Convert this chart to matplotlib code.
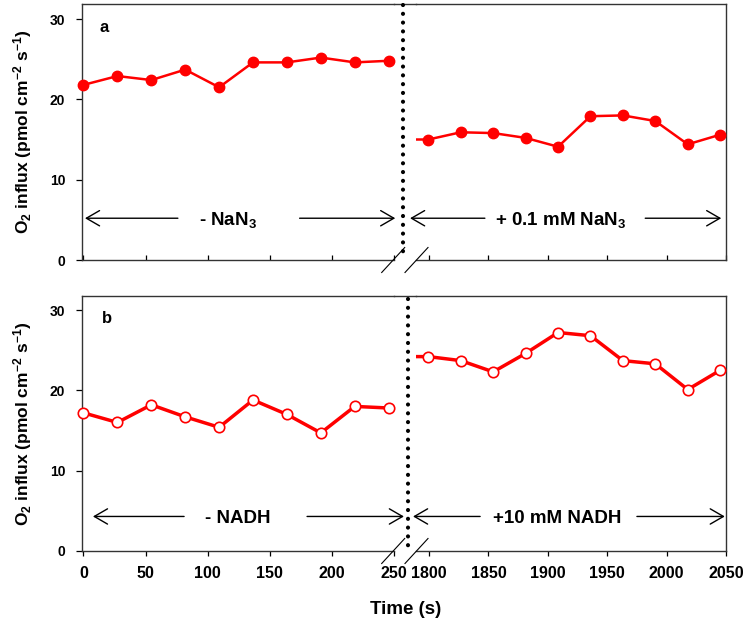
import matplotlib
matplotlib.use("Agg")
import matplotlib.pyplot as plt
from matplotlib.lines import Line2D

plt.rcParams['font.family'] = ['Liberation Sans', 'DejaVu Sans']
plt.rcParams['font.weight'] = 'bold'
plt.rcParams['mathtext.fontset'] = 'custom'
plt.rcParams['mathtext.rm'] = 'Liberation Sans:bold'
plt.rcParams['mathtext.bf'] = 'Liberation Sans:bold'
plt.rcParams['mathtext.it'] = 'Liberation Sans:bold:italic'
plt.rcParams['mathtext.default'] = 'rm'

# ---- data (time in s, O2 influx in pmol cm-2 s-1) ----
time_before = [0, 27.3, 54.6, 81.9, 109.2, 136.5, 163.8, 191.1, 218.4, 245.7]
time_after = [1772, 1799.4, 1826.7, 1854.0, 1881.3, 1908.6, 1935.9, 1963.2,
              1990.5, 2017.8, 2045.1]

nan3_before = [21.8, 22.9, 22.4, 23.7, 21.5, 24.6, 24.6, 25.2, 24.6, 24.8]
nan3_after = [15.0, 15.0, 15.9, 15.8, 15.2, 14.1, 17.9, 18.0, 17.3, 14.4, 15.6]

nadh_before = [17.2, 16.0, 18.2, 16.7, 15.4, 18.8, 17.0, 14.7, 18.0, 17.8]
nadh_after = [24.2, 24.2, 23.7, 22.3, 24.6, 27.2, 26.8, 23.7, 23.3, 20.1, 22.5]

ticks_before = [0, 50, 100, 150, 200, 250]
ticks_after = [1800, 1850, 1900, 1950, 2000, 2050]
yticks = [0, 10, 20, 30]

YLABEL = r'O$_2$ influx (pmol cm$^{-2}$ s$^{-1}$)'

W, H = 747, 624
fig = plt.figure(figsize=(W / 100, H / 100), dpi=100)


def fx(px):
    return px / W


def fy(py):
    return 1 - py / H


def panel(top, bottom, tick_dir, show_xlabels):
    hgt = (bottom - top) / H
    axL = fig.add_axes([fx(82), fy(bottom), fx(394) - fx(82), hgt])
    axR = fig.add_axes([fx(416), fy(bottom), fx(726) - fx(416), hgt])
    ymax = (bottom - top) / 8.033
    for ax in (axL, axR):
        ax.set_ylim(0, ymax)
        for s in ax.spines.values():
            s.set_linewidth(1.0)
            s.set_color('#333333')
        ax.tick_params(axis='x', direction=tick_dir, length=3.5, width=0.9,
                       labelsize=11.5, pad=7.5, labelbottom=show_xlabels)
    axL.set_xlim(-1.2, 250)
    axR.set_xlim(1789, 2050)
    axL.spines['right'].set_visible(False)
    axR.spines['left'].set_visible(False)
    axL.set_yticks(yticks)
    axL.tick_params(axis='y', direction='out', length=4, width=0.9,
                    labelsize=10, pad=8)
    axR.set_yticks([])
    axL.set_xticks(ticks_before)
    axR.set_xticks(ticks_after)
    for t in axL.xaxis.get_major_ticks():
        if t.get_loc() == 250:
            t.tick1line.set_visible(False)
    for t in axR.xaxis.get_major_ticks():
        if t.get_loc() == 2050:
            t.tick1line.set_visible(False)
    fig.text(fx(23), fy((top + bottom) / 2), YLABEL, fontsize=12.5,
             fontweight='bold', rotation=90, ha='center', va='center')
    # top spine bridge across the break
    fig.add_artist(Line2D([fx(394), fx(416)], [fy(top), fy(top)],
                          color='#333333', lw=1.0))
    # break marks
    for x0 in (381.7, 405):
        fig.add_artist(Line2D([fx(x0), fx(x0 + 23)], [fy(bottom + 12.5), fy(bottom - 12.5)],
                              color='black', lw=0.8))
    return axL, axR


def dotted(xpx, y0, y1):
    fig.add_artist(Line2D([fx(xpx), fx(xpx)], [fy(y0), fy(y1)], color='black',
                          lw=3.0, linestyle=(0, (0.01, 2.1)),
                          dash_capstyle='round'))


def arrow(ax, x_tail, x_head, y):
    ax.annotate('', xy=(x_head, y), xytext=(x_tail, y), annotation_clip=False,
                arrowprops=dict(arrowstyle='->,head_length=0.95,head_width=0.55',
                                mutation_scale=10, lw=1.0, color='black',
                                shrinkA=0, shrinkB=0))


# ---- panel a ----
aL, aR = panel(4, 260, 'in', False)
aL.plot(time_before, nan3_before, '-o', color='red', lw=1.8, ms=7.5,
        mfc='red', mec='red', clip_on=False, zorder=3)
aR.plot(time_after, nan3_after, '-o', color='red', lw=1.8, ms=7.5,
        mfc='red', mec='red', markevery=list(range(1, len(time_after))), zorder=3)
aL.text(16.5, 28.9, 'a', fontsize=12, fontweight='bold', ha='center', va='center')
ya = 5.2
arrow(aL, 76, 1.2, ya)
arrow(aL, 174, 251, ya)
aL.text(116, ya - 0.8, '- NaN$_3$', fontsize=13.5, ha='center', va='baseline')
arrow(aR, 1847, 1784, ya)
arrow(aR, 1982, 2046, ya)
aR.text(1911, ya - 0.8, '+ 0.1 mM NaN$_3$', fontsize=13.5, ha='center', va='baseline')
dotted(403, 5, 254)

# ---- panel b ----
bL, bR = panel(296, 551, 'out', True)
bL.plot(time_before, nadh_before, '-o', color='red', lw=2.5, ms=7.5,
        mfc='white', mec='red', mew=1.2, clip_on=False, zorder=3)
bR.plot(time_after, nadh_after, '-o', color='red', lw=2.5, ms=7.5,
        mfc='white', mec='red', mew=1.2, markevery=list(range(1, len(time_after))),
        zorder=3)
bL.text(19.3, 28.9, 'b', fontsize=12, fontweight='bold', ha='center', va='center')
yb = 4.3
arrow(bL, 81, 7.6, yb)
arrow(bL, 180, 258, yb)
bL.text(124.5, yb - 0.8, '- NADH', fontsize=13.5, ha='center', va='baseline')
arrow(bR, 1843, 1786.5, yb)
arrow(bR, 1975, 2049, yb)
bR.text(1908, yb - 0.8, '+10 mM NADH', fontsize=13.5, ha='center', va='baseline')
dotted(407.5, 299, 548)

fig.text(fx(406), fy(609), 'Time (s)', fontsize=13.5, fontweight='bold',
         ha='center', va='center')

fig.savefig('out.png', dpi=100)
